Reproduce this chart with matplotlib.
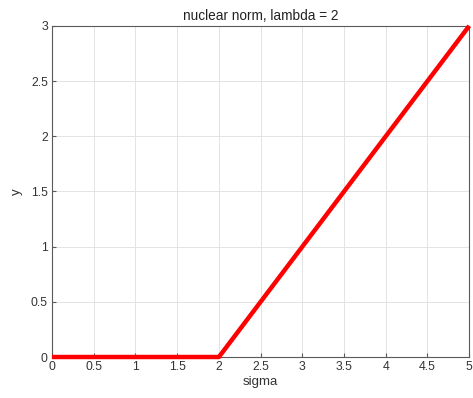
import numpy as np
import matplotlib
matplotlib.use('Agg')
import matplotlib.pyplot as plt

# soft-threshold curve for the nuclear norm prox, breakpoints only
sigma = [0, 2, 5]
y = [0, 0, 3]
lam = 2

plt.rcParams['font.family'] = ['Liberation Sans', 'DejaVu Sans']

fig = plt.figure(figsize=(4.73, 3.98), dpi=100)
ax = fig.add_axes([0.110, 0.103, 0.882, 0.832])

ax.plot(sigma, y, color='#ff0000', linewidth=3.2, solid_capstyle='butt', zorder=3, clip_on=False)

ax.set_xlim(0, 5)
ax.set_ylim(0, 3)
ax.set_xticks(np.arange(0, 5.01, 0.5))
ax.set_yticks(np.arange(0, 3.01, 0.5))
ax.set_xticklabels(['0', '0.5', '1', '1.5', '2', '2.5', '3', '3.5', '4', '4.5', '5'])
ax.set_yticklabels(['0', '0.5', '1', '1.5', '2', '2.5', '3'])

ax.grid(True, color='#e3e3e3', linewidth=0.7)
ax.set_axisbelow(True)
for s in ax.spines.values():
    s.set_color('#5a5a5a')
    s.set_linewidth(0.8)
ax.tick_params(direction='in', length=3, width=0.8, colors='#5a5a5a', labelsize=8.8, labelcolor='#333333', pad=3)

ax.set_title(f'nuclear norm, lambda = {lam}', fontsize=9.8, color='#222222', pad=4)
ax.set_xlabel('sigma', fontsize=9.5, color='#333333', labelpad=2)
ax.set_ylabel('y', fontsize=9.5, color='#333333', labelpad=6)

fig.savefig('out.png', dpi=100)
